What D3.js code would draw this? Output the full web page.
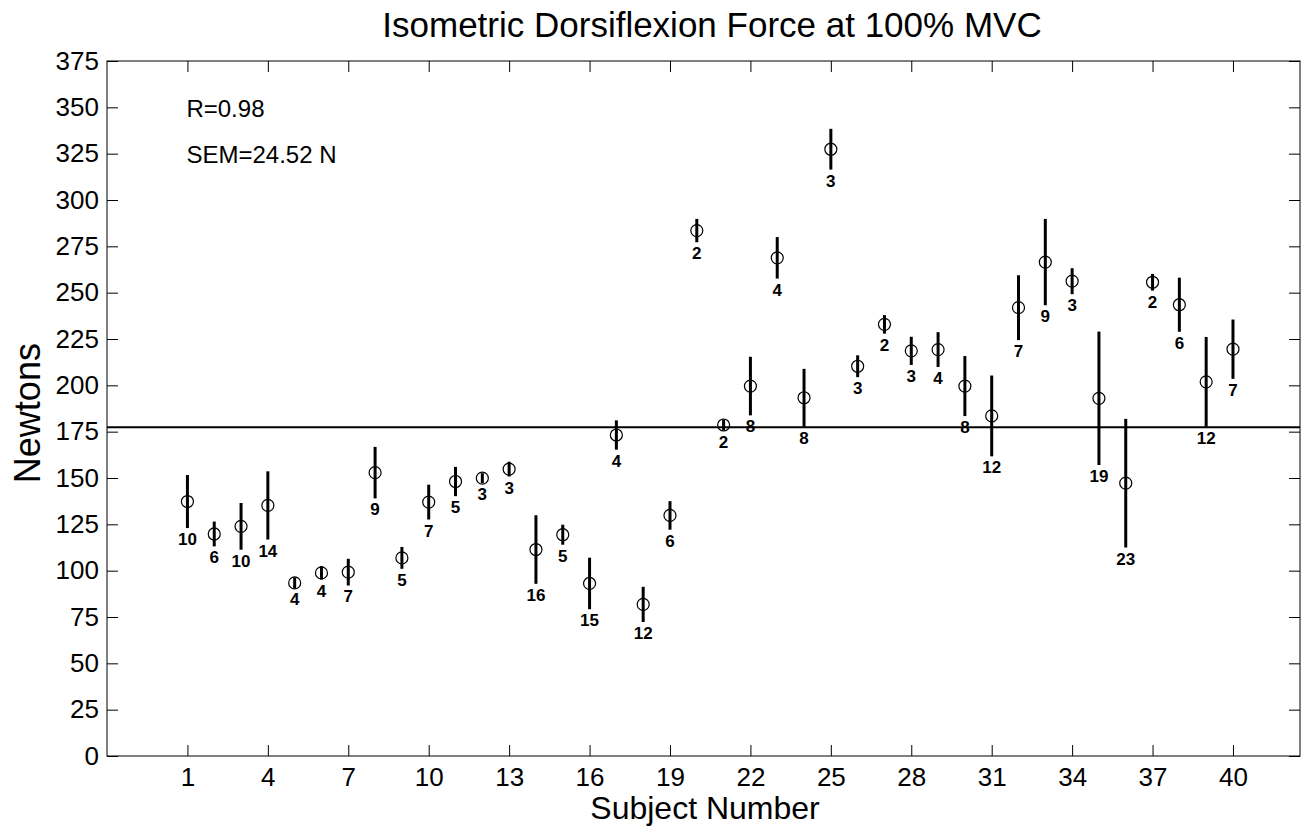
<!DOCTYPE html>
<html>
<head>
<meta charset="utf-8">
<script src="https://cdn.jsdelivr.net/npm/d3@7"></script>
<style>
body { margin: 0; background: #fff; }
text { font-family: "Liberation Sans", Arial, sans-serif; fill: #000; }
</style>
</head>
<body>
<script>
var subjects = [1,2,3,4,5,6,7,8,9,10,11,12,13,14,15,16,17,18,19,20,21,22,23,24,25,26,27,28,29,30,31,32,33,34,35,36,37,38,39,40];
var meanForce = [137.3,119.8,123.9,135.2,93.4,98.8,99.2,152.9,106.9,137.0,148.1,149.9,154.8,111.4,119.4,93.1,173.2,81.8,129.8,283.5,
	178.6,199.6,268.8,193.3,327.4,210.3,232.9,218.6,219.3,199.6,183.5,241.9,266.5,256.2,193.0,147.2,255.6,243.5,201.9,219.5];
var errHalf = [14.3,6.7,12.6,18.4,3.0,3.6,7.2,13.9,5.9,9.4,7.9,2.7,4.0,18.5,5.4,13.9,7.9,9.5,7.7,6.3,
	3.0,15.8,11.2,15.6,11.0,5.9,5.0,7.6,9.4,16.2,21.8,17.5,23.3,7.0,36.0,34.7,4.5,14.6,24.2,16.0];
var trialCount = [10,6,10,14,4,4,7,9,5,7,5,3,3,16,5,15,4,12,6,2,2,8,4,8,3,3,2,3,4,8,12,7,9,3,19,23,2,6,12,7];
var xTicks = [1,4,7,10,13,16,19,22,25,28,31,34,37,40];
var yTicks = [0,25,50,75,100,125,150,175,200,225,250,275,300,325,350,375];
var groupMean = 177.4;
var notes = ["R=0.98", "SEM=24.52 N"];

var margin = {top: 61, right: 2, bottom: 72, left: 107},
	width = 1302 - margin.left - margin.right,
	height = 828 - margin.top - margin.bottom;

var x = d3.scaleLinear()
	.domain([-2, 42.5])
	.range([0, width]);

var y = d3.scaleLinear()
	.domain([0, 375])
	.range([height, 0]);

var svg = d3.select("body").append("svg")
	.attr("width", width + margin.left + margin.right)
	.attr("height", height + margin.top + margin.bottom)
	.append("g")
	.attr("transform", "translate(" + margin.left + "," + margin.top + ")");

// frame
svg.append("rect")
	.attr("width", width)
	.attr("height", height)
	.attr("fill", "none")
	.attr("stroke", "#000")
	.attr("stroke-width", 1);

// inward ticks on all four sides
svg.append("g")
	.attr("transform", "translate(0," + height + ")")
	.call(d3.axisBottom(x).tickValues(xTicks).tickSizeInner(-11).tickSizeOuter(0).tickPadding(12))
	.call(function(g) { g.select(".domain").remove(); })
	.selectAll("text").attr("font-size", 26).attr("font-family", "Liberation Sans, Arial, sans-serif");

svg.append("g")
	.call(d3.axisTop(x).tickValues(xTicks).tickSizeInner(-11).tickSizeOuter(0).tickFormat(""))
	.call(function(g) { g.select(".domain").remove(); });

svg.append("g")
	.call(d3.axisLeft(y).tickValues(yTicks).tickSizeInner(-11).tickSizeOuter(0).tickPadding(8))
	.call(function(g) { g.select(".domain").remove(); })
	.selectAll("text").attr("font-size", 26).attr("font-family", "Liberation Sans, Arial, sans-serif");

svg.append("g")
	.attr("transform", "translate(" + width + ",0)")
	.call(d3.axisRight(y).tickValues(yTicks).tickSizeInner(-11).tickSizeOuter(0).tickFormat(""))
	.call(function(g) { g.select(".domain").remove(); });

// horizontal reference line
svg.append("line")
	.attr("x1", 0)
	.attr("x2", width)
	.attr("y1", y(groupMean))
	.attr("y2", y(groupMean))
	.attr("stroke", "#000")
	.attr("stroke-width", 2);

var pts = subjects.map(function(s, i) {
	return {s: s, m: meanForce[i], e: errHalf[i], n: trialCount[i]};
});

svg.selectAll(".err")
	.data(pts)
	.enter().append("line")
	.attr("class", "err")
	.attr("x1", function(d) { return x(d.s); })
	.attr("x2", function(d) { return x(d.s); })
	.attr("y1", function(d) { return y(d.m + d.e); })
	.attr("y2", function(d) { return y(d.m - d.e); })
	.attr("stroke", "#000")
	.attr("stroke-width", 3);

svg.selectAll(".dot")
	.data(pts)
	.enter().append("circle")
	.attr("class", "dot")
	.attr("cx", function(d) { return x(d.s); })
	.attr("cy", function(d) { return y(d.m); })
	.attr("r", 6)
	.attr("fill", "none")
	.attr("stroke", "#000")
	.attr("stroke-width", 1.2);

svg.selectAll(".cnt")
	.data(pts)
	.enter().append("text")
	.attr("class", "cnt")
	.attr("x", function(d) { return x(d.s); })
	.attr("y", function(d) { return y(d.m - d.e) + 17; })
	.attr("text-anchor", "middle")
	.attr("font-size", 17)
	.attr("font-weight", "bold")
	.text(function(d) { return d.n; });

svg.selectAll(".note")
	.data(notes)
	.enter().append("text")
	.attr("class", "note")
	.attr("x", x(1) - 1)
	.attr("y", function(d, i) { return 56 + i * 46; })
	.attr("font-size", 24)
	.text(function(d) { return d; });

svg.append("text")
	.attr("x", 605)
	.attr("y", -24)
	.attr("text-anchor", "middle")
	.attr("font-size", 35)
	.text("Isometric Dorsiflexion Force at 100% MVC");

svg.append("text")
	.attr("x", 598)
	.attr("y", height + 63)
	.attr("text-anchor", "middle")
	.attr("font-size", 32)
	.text("Subject Number");

svg.append("text")
	.attr("transform", "translate(-67," + y(185) + ") rotate(-90)")
	.attr("text-anchor", "middle")
	.attr("font-size", 36)
	.text("Newtons");
</script>
</body>
</html>
